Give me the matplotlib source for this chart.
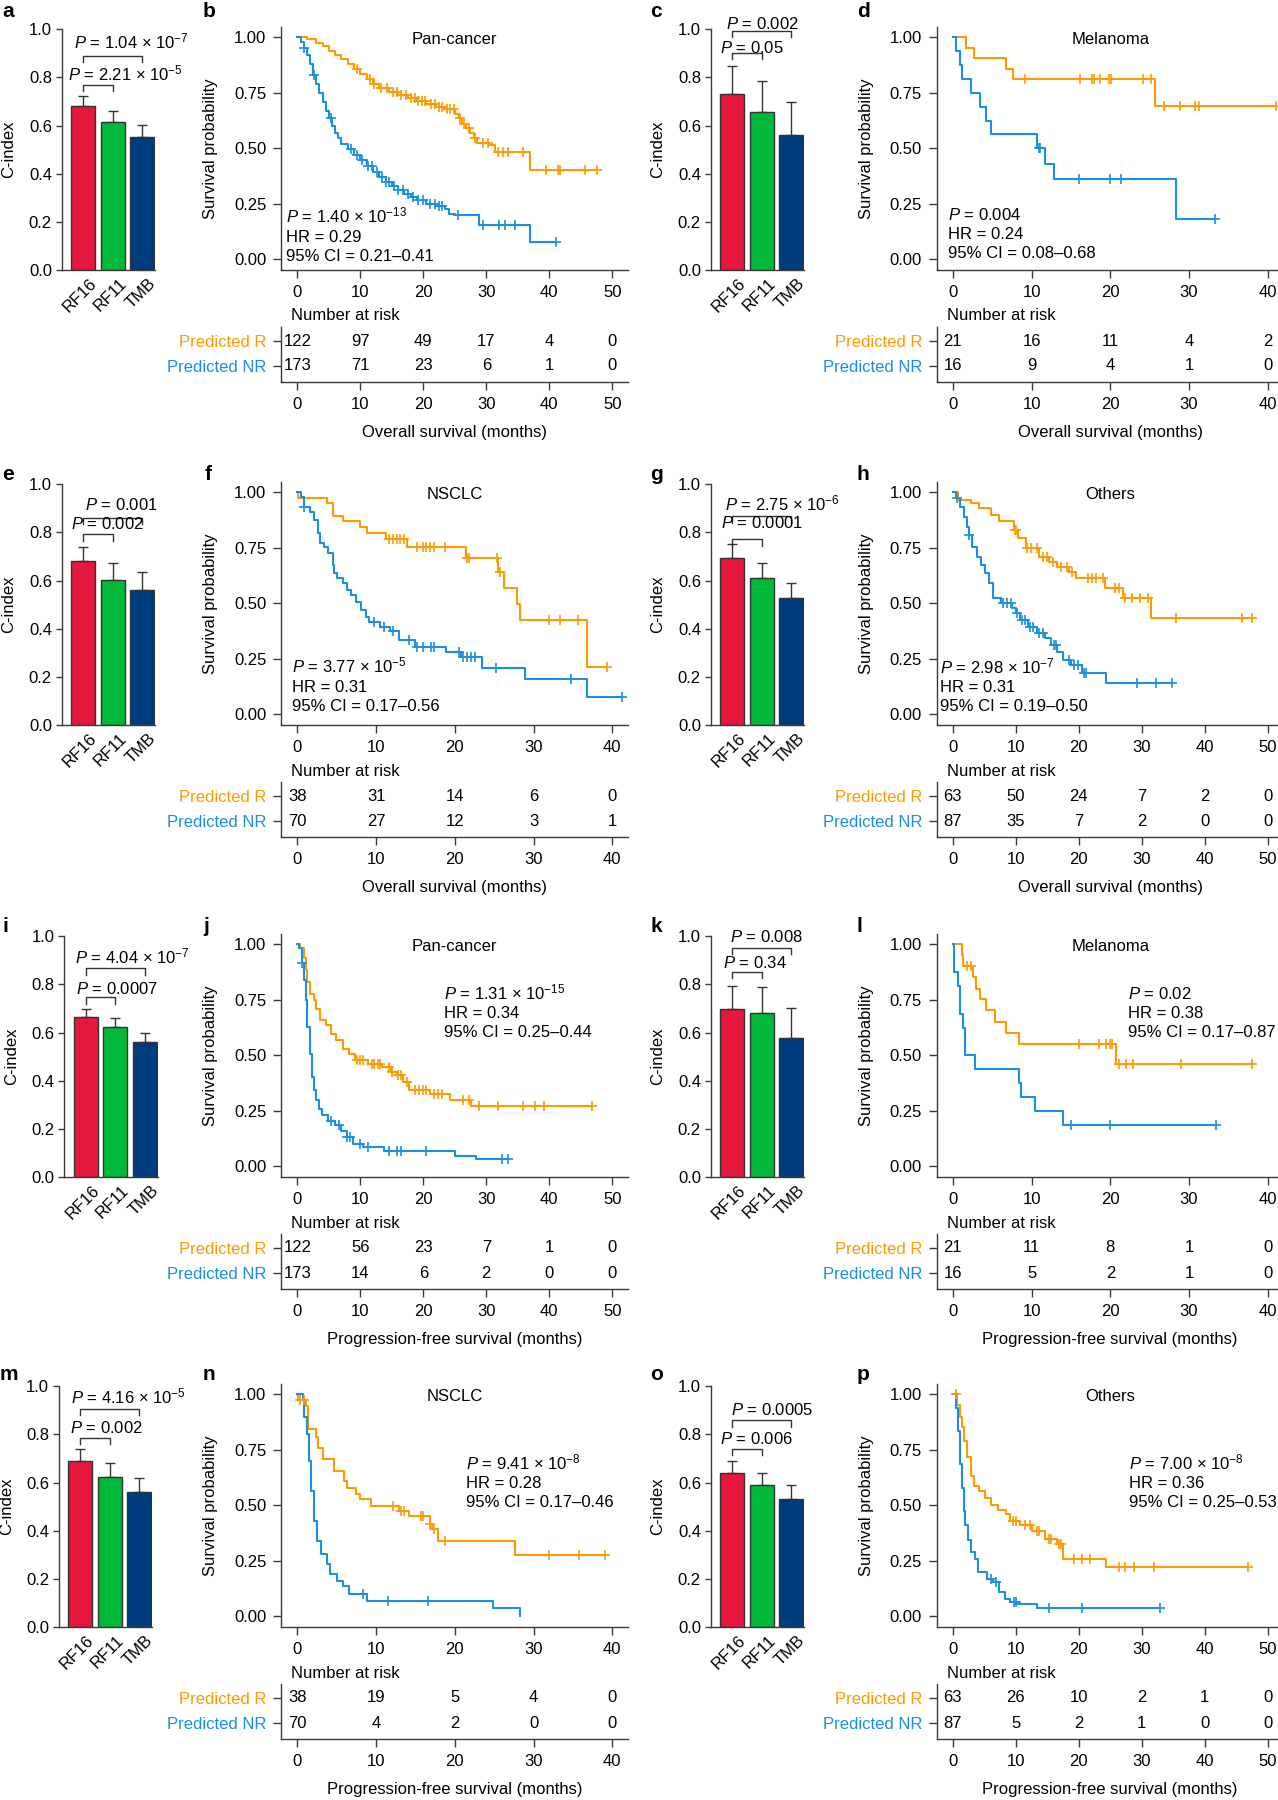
"""
C-index bar charts and Kaplan-Meier curves (predicted responders vs
non-responders) with number-at-risk tables, laid out as a 4 x 4 panel figure.
"""
import numpy as np
import matplotlib
matplotlib.use('Agg')
import matplotlib.pyplot as plt
import matplotlib.transforms as mtransforms

# ---------------------------------------------------------------------------
# C-index bar data (RF16, RF11, TMB) and upper error bars
# ---------------------------------------------------------------------------
models = ['RF16', 'RF11', 'TMB']

cindex_a = [0.681, 0.615, 0.554]
err_a = [0.042, 0.045, 0.047]
cindex_c = [0.730, 0.658, 0.561]
err_c = [0.119, 0.129, 0.139]
cindex_e = [0.682, 0.602, 0.560]
err_e = [0.059, 0.069, 0.076]
cindex_g = [0.693, 0.609, 0.528]
err_g = [0.058, 0.062, 0.064]
cindex_i = [0.664, 0.622, 0.560]
err_i = [0.036, 0.038, 0.040]
cindex_k = [0.700, 0.683, 0.577]
err_k = [0.095, 0.108, 0.124]
cindex_m = [0.689, 0.622, 0.560]
err_m = [0.050, 0.060, 0.061]
cindex_o = [0.638, 0.591, 0.533]
err_o = [0.051, 0.049, 0.059]

# P values: (RF16 vs TMB, RF16 vs RF11)
p_a = ['1.04 × 10$^{-7}$', '2.21 × 10$^{-5}$']
p_c = ['0.002', '0.05']
p_e = ['0.001', '0.002']
p_g = ['2.75 × 10$^{-6}$', '0.0001']
p_i = ['4.04 × 10$^{-7}$', '0.0007']
p_k = ['0.008', '0.34']
p_m = ['4.16 × 10$^{-5}$', '0.002']
p_o = ['0.0005', '0.006']

# ---------------------------------------------------------------------------
# Kaplan-Meier curves: step times, survival after each step, censor times
# ---------------------------------------------------------------------------
# b: pan-cancer, overall survival
b_r_t = [0, 1.5, 3, 4, 5, 6, 7, 8, 9, 10, 11, 12, 13, 14.5, 16, 17.5, 19, 20.5,
         22, 23.5, 25, 25.6, 26.2, 26.8, 27.4, 28, 28.5, 30.5, 31.4, 36.9]
b_r_s = [1.0, 0.99, 0.975, 0.96, 0.94, 0.92, 0.90, 0.88, 0.855, 0.835, 0.81,
         0.79, 0.77, 0.755, 0.74, 0.725, 0.715, 0.70, 0.685, 0.675, 0.655,
         0.635, 0.61, 0.59, 0.57, 0.545, 0.525, 0.515, 0.485, 0.40]
b_r_cens = [9.5, 11.5, 12.2, 13.2, 14.2, 15.2, 15.8, 16.5, 17.2, 18.0, 18.6,
            19.2, 19.8, 20.2, 21.2, 21.8, 22.5, 23.0, 23.8, 24.3, 24.8, 25.8,
            26.5, 27.2, 28.2, 29.5, 30.2, 31.9, 32.6, 33.5, 35.9, 39.5, 41.4,
            41.7, 45.6, 47.6]
b_nr_t = [0, 0.5, 1, 1.5, 2, 2.5, 3, 3.5, 4, 4.5, 5, 5.5, 6, 6.5, 7, 8, 9, 10,
          11, 12, 13, 14, 15, 16, 17, 18, 19, 20.5, 22, 23.5, 24, 25, 28.8, 36.9]
b_nr_s = [1.0, 0.98, 0.95, 0.92, 0.88, 0.83, 0.79, 0.75, 0.71, 0.67, 0.635,
          0.60, 0.57, 0.545, 0.52, 0.495, 0.47, 0.445, 0.42, 0.395, 0.37, 0.35,
          0.33, 0.31, 0.295, 0.28, 0.265, 0.25, 0.24, 0.225, 0.205, 0.20,
          0.155, 0.08]
b_nr_cens = [1.0, 2.6, 5.4, 8.5, 9.5, 10.3, 11.2, 11.8, 12.6, 13.4, 14.0, 14.6,
             15.4, 16.0, 16.8, 17.5, 18.3, 19.2, 20.0, 21.0, 21.8, 22.5, 23.0,
             25.5, 29.5, 32.0, 33.0, 34.5, 41.0]

# d: melanoma, overall survival
d_r_t = [0, 1.7, 2.7, 6.7, 7.7, 25.7]
d_r_s = [1.0, 0.952, 0.905, 0.857, 0.81, 0.69]
d_r_cens = [9.1, 16.1, 17.7, 17.9, 18.7, 19.8, 20.1, 24.2, 25.2, 26.8, 28.8,
            30.8, 31.3, 41.0, 41.8]
d_nr_t = [0, 0.4, 0.9, 1.1, 2.25, 3.5, 4.2, 4.8, 10.7, 11.7, 12.9, 28.3]
d_nr_s = [1.0, 0.9375, 0.875, 0.8125, 0.75, 0.6875, 0.625, 0.5625, 0.5, 0.43,
          0.36, 0.18]
d_nr_cens = [10.9, 11.1, 16.0, 20.0, 21.3, 33.3]

# f: NSCLC, overall survival
f_r_t = [0, 0.05, 3.7, 4.5, 5.8, 7.9, 8.9, 11.3, 13.9, 21.4, 25.5, 26.3, 27.9,
         28.3, 36.8]
f_r_s = [1.0, 0.973, 0.95, 0.895, 0.871, 0.842, 0.818, 0.79, 0.755, 0.703,
         0.643, 0.571, 0.497, 0.425, 0.215]
f_r_cens = [11.6, 12.1, 12.6, 13.1, 13.6, 15.2, 15.9, 16.3, 16.8, 17.3, 18.7,
            21.6, 21.8, 25.4, 25.7, 32.0, 33.4, 35.7, 39.3]
f_nr_t = [0, 0.5, 0.9, 1.6, 2.1, 2.6, 2.9, 3.4, 3.9, 4.5, 4.6, 5.0, 5.8, 6.3,
          6.8, 7.4, 8.1, 8.7, 9.1, 10.5, 11.8, 12.9, 15.0, 18.9, 20.8, 23.4,
          28.9, 36.8]
f_nr_s = [1.0, 0.98, 0.932, 0.913, 0.875, 0.815, 0.77, 0.755, 0.725, 0.673,
          0.635, 0.613, 0.59, 0.56, 0.537, 0.507, 0.47, 0.44, 0.417, 0.395,
          0.373, 0.335, 0.305, 0.282, 0.26, 0.21, 0.16, 0.08]
f_nr_cens = [0.9, 9.7, 11.0, 12.1, 14.2, 15.2, 16.0, 17.0, 17.3, 20.5, 21.1,
             21.6, 22.1, 22.6, 25.2, 34.8, 41.3]

# h: others, overall survival
h_r_t = [0, 0.85, 2.8, 4.1, 6.1, 7.4, 9.7, 10.3, 11.6, 13.6, 15.2, 16.6, 18.5,
         19.5, 24.1, 27.0, 31.5]
h_r_s = [1.0, 0.965, 0.95, 0.928, 0.898, 0.872, 0.83, 0.793, 0.748, 0.71,
         0.688, 0.665, 0.643, 0.613, 0.568, 0.522, 0.435]
h_r_cens = [9.9, 10.1, 11.8, 12.4, 13.3, 14.3, 15.0, 15.9, 17.2, 18.2, 18.9,
            21.5, 22.1, 22.8, 23.8, 25.7, 26.4, 27.4, 28.4, 29.7, 31.0, 35.4,
            45.9, 47.5]
h_nr_t = [0, 0.5, 1.2, 1.8, 2.2, 2.5, 3.1, 3.8, 4.5, 5.1, 5.8, 6.4, 7.7, 9.4,
          10.0, 10.7, 12.0, 13.3, 14.6, 15.6, 16.6, 17.5, 18.8, 20.5, 24.3]
h_nr_s = [1.0, 0.973, 0.935, 0.89, 0.845, 0.808, 0.755, 0.71, 0.673, 0.635,
          0.59, 0.523, 0.5, 0.477, 0.455, 0.425, 0.395, 0.365, 0.342, 0.312,
          0.282, 0.245, 0.222, 0.188, 0.143]
h_nr_cens = [0.7, 2.6, 8.0, 8.6, 9.2, 10.2, 11.0, 11.5, 12.2, 12.8, 13.6, 14.3,
             16.0, 16.3, 18.5, 19.2, 19.8, 20.8, 21.1, 29.3, 32.3, 34.8]

# j: pan-cancer, progression-free survival
j_r_t = [0, 0.4, 1.0, 1.3, 1.6, 2.0, 2.6, 3.0, 3.6, 4.6, 5.3, 6.2, 7.2, 8.2,
         9.2, 11.2, 13.5, 14.8, 15.8, 16.8, 17.7, 21.0, 24.3, 27.6]
j_r_s = [1.0, 0.985, 0.937, 0.884, 0.83, 0.777, 0.749, 0.71, 0.657, 0.636,
         0.598, 0.568, 0.53, 0.508, 0.48, 0.462, 0.447, 0.425, 0.41, 0.38,
         0.342, 0.327, 0.297, 0.27]
j_r_cens = [9.4, 10.0, 10.5, 11.8, 12.2, 12.8, 13.1, 14.5, 15.1, 15.9, 16.4,
            17.4, 18.7, 19.3, 19.9, 20.4, 21.7, 22.3, 23.0, 26.3, 27.3, 28.9,
            31.9, 35.8, 37.8, 39.1, 46.8]
j_nr_t = [0, 0.3, 0.7, 1.0, 1.3, 1.6, 2.0, 2.3, 2.6, 3.0, 3.4, 3.9, 4.9, 5.9,
          6.9, 7.9, 8.9, 10.5, 13.8, 25.0, 28.3]
j_nr_s = [1.0, 0.982, 0.914, 0.839, 0.748, 0.628, 0.508, 0.402, 0.342, 0.297,
          0.259, 0.229, 0.206, 0.184, 0.161, 0.131, 0.101, 0.086, 0.071, 0.048,
          0.033]
j_nr_cens = [0.7, 5.3, 6.6, 7.9, 8.4, 9.9, 11.2, 14.5, 15.8, 16.4, 20.4, 32.5,
             33.4]

# l: melanoma, progression-free survival
l_r_t = [0, 1.1, 1.3, 2.6, 3.0, 3.4, 4.2, 5.4, 6.7, 8.4, 20.7]
l_r_s = [1.0, 0.952, 0.904, 0.851, 0.8, 0.753, 0.703, 0.65, 0.6, 0.553, 0.462]
l_r_cens = [1.8, 2.3, 16.0, 18.6, 19.5, 19.9, 20.2, 21.1, 22.0, 22.9, 29.0,
            38.0]
l_nr_t = [0, 0.2, 0.6, 0.9, 1.3, 1.5, 2.8, 8.4, 8.6, 10.4, 14.0]
l_nr_s = [1.0, 0.875, 0.8125, 0.6875, 0.625, 0.5, 0.4375, 0.375, 0.3125, 0.25,
          0.1875]
l_nr_cens = [15.0, 20.0, 33.4]

# n: NSCLC, progression-free survival
n_r_t = [0, 0.05, 1.05, 1.3, 2.4, 2.6, 3.3, 4.7, 5.9, 6.3, 7.4, 7.9, 9.3, 12.9,
         14.2, 16.8, 17.1, 17.9, 27.6]
n_r_s = [1.0, 0.974, 0.947, 0.842, 0.806, 0.76, 0.71, 0.656, 0.611, 0.58, 0.55,
         0.528, 0.498, 0.476, 0.45, 0.416, 0.393, 0.34, 0.276]
n_r_cens = [0.3, 0.8, 12.1, 13.2, 13.5, 15.7, 15.9, 16.9, 17.4, 18.7, 32.0,
            35.8, 39.1]
n_nr_t = [0, 0.7, 0.9, 1.2, 1.5, 1.7, 2.1, 2.5, 3.0, 3.7, 4.2, 5.0, 5.8, 6.6,
          8.8, 24.9, 28.3]
n_nr_s = [1.0, 0.982, 0.896, 0.82, 0.7, 0.566, 0.43, 0.34, 0.28, 0.236, 0.19,
          0.16, 0.138, 0.1, 0.07, 0.036, 0.0]
n_nr_cens = [8.3, 11.5, 16.6]

# p: others, progression-free survival
p_r_t = [0, 0.7, 1.2, 1.5, 1.8, 2.2, 2.8, 3.3, 4.1, 5.1, 6.1, 7.1, 8.4, 9.0,
         10.7, 12.6, 14.6, 16.6, 17.5, 24.3]
p_r_s = [1.0, 0.95, 0.896, 0.851, 0.791, 0.716, 0.633, 0.588, 0.566, 0.535,
         0.5, 0.479, 0.46, 0.43, 0.41, 0.385, 0.35, 0.327, 0.26, 0.22]
p_r_cens = [0.5, 9.5, 10.0, 11.5, 12.3, 13.3, 13.6, 15.2, 15.6, 16.9, 17.2,
            19.2, 20.5, 21.8, 26.4, 27.4, 28.7, 31.9, 46.9]
p_nr_t = [0, 0.5, 0.85, 1.2, 1.5, 1.7, 2.0, 2.4, 2.8, 3.5, 4.0, 5.4, 6.4, 7.3,
          8.2, 9.0, 10.1, 13.4]
p_nr_s = [1.0, 0.94, 0.835, 0.686, 0.58, 0.475, 0.41, 0.342, 0.29, 0.26, 0.2,
          0.17, 0.155, 0.11, 0.08, 0.065, 0.054, 0.038]
p_nr_cens = [6.1, 6.9, 9.7, 10.0, 15.2, 20.5, 32.9]

# Number at risk (every 10 months)
b_risk_r = [122, 97, 49, 17, 4, 0]
b_risk_nr = [173, 71, 23, 6, 1, 0]
d_risk_r = [21, 16, 11, 4, 2]
d_risk_nr = [16, 9, 4, 1, 0]
f_risk_r = [38, 31, 14, 6, 0]
f_risk_nr = [70, 27, 12, 3, 1]
h_risk_r = [63, 50, 24, 7, 2, 0]
h_risk_nr = [87, 35, 7, 2, 0, 0]
j_risk_r = [122, 56, 23, 7, 1, 0]
j_risk_nr = [173, 14, 6, 2, 0, 0]
l_risk_r = [21, 11, 8, 1, 0]
l_risk_nr = [16, 5, 2, 1, 0]
n_risk_r = [38, 19, 5, 4, 0]
n_risk_nr = [70, 4, 2, 0, 0]
p_risk_r = [63, 26, 10, 2, 1, 0]
p_risk_nr = [87, 5, 2, 1, 0, 0]

# Log-rank P, hazard ratio, 95% CI
b_stats = ['1.40 × 10$^{-13}$', '0.29', '0.21–0.41']
d_stats = ['0.004', '0.24', '0.08–0.68']
f_stats = ['3.77 × 10$^{-5}$', '0.31', '0.17–0.56']
h_stats = ['2.98 × 10$^{-7}$', '0.31', '0.19–0.50']
j_stats = ['1.31 × 10$^{-15}$', '0.34', '0.25–0.44']
l_stats = ['0.02', '0.38', '0.17–0.87']
n_stats = ['9.41 × 10$^{-8}$', '0.28', '0.17–0.46']
p_stats = ['7.00 × 10$^{-8}$', '0.36', '0.25–0.53']

# ---------------------------------------------------------------------------
# Style
# ---------------------------------------------------------------------------
plt.rcParams['font.family'] = ['Liberation Sans', 'DejaVu Sans']
plt.rcParams['mathtext.fontset'] = 'custom'
plt.rcParams['mathtext.rm'] = 'Liberation Sans'
plt.rcParams['mathtext.it'] = 'Liberation Sans:italic'
plt.rcParams['mathtext.bf'] = 'Liberation Sans:bold'
plt.rcParams['font.size'] = 12
plt.rcParams['axes.linewidth'] = 1.0

AXIS_COLOR = '#3a3a3a'
ORANGE = '#FF9A00'
BLUE = '#1A8FE3'
BAR_COLORS = ['#E5173C', '#00B93A', '#003C7E']

W, H = 1278, 1800
ROW_OFF = [0, 455, 907, 1357]          # vertical offset of each panel row (px)
BAR_CENTER0 = [[83, 732], [83, 732], [85.8, 732], [80.2, 732]]
BAR_UNIT = 29.6                        # px between bar centres
BAR_XLIM = (-0.72, 2.43)
KM_LEFT = [281, 936.5]
KM_W, KM_H = 347, 243

fig = plt.figure(figsize=(W / 100, H / 100), dpi=100)


def add_px_axes(left, top, width, height):
    """Add an axes given in pixel units measured from the top-left corner."""
    return fig.add_axes([left / W, 1 - (top + height) / H, width / W, height / H])


def style_spines(ax):
    for side in ('top', 'right'):
        ax.spines[side].set_visible(False)
    for side in ('left', 'bottom'):
        ax.spines[side].set_color(AXIS_COLOR)
    ax.tick_params(colors=AXIS_COLOR, labelcolor='black', width=1)


def draw_cindex(row, col, vals, errs, pvals, lay):
    """Bar chart of C-index with significance brackets."""
    c0 = BAR_CENTER0[row][col]
    width = (BAR_XLIM[1] - BAR_XLIM[0]) * BAR_UNIT
    left = c0 + BAR_XLIM[0] * BAR_UNIT
    ax = add_px_axes(left, 29.3 + ROW_OFF[row], width, 240.7)
    x = np.arange(len(models))
    ax.bar(x, vals, width=0.81, color=BAR_COLORS, edgecolor='#333333',
           linewidth=1, zorder=2)
    ax.errorbar(x, vals, yerr=[np.zeros(len(vals)), errs], fmt='none',
                ecolor='#333333', elinewidth=1, capsize=3.5, capthick=1, zorder=1)
    ax.set_xlim(*BAR_XLIM)
    ax.set_ylim(0, 1)
    style_spines(ax)
    ax.set_yticks(np.arange(0, 1.01, 0.2))
    ax.set_yticklabels(['%.1f' % v for v in np.arange(0, 1.01, 0.2)])
    ax.tick_params(axis='y', direction='out', length=4, pad=3, labelsize=12)
    ax.set_xticks(x)
    ax.set_xticklabels(models, rotation=45, ha='right', va='top',
                       rotation_mode='anchor', fontsize=12)
    ax.tick_params(axis='x', length=0, pad=4)
    shift = mtransforms.ScaledTranslation(6 / 100, 0, fig.dpi_scale_trans)
    for lbl in ax.get_xticklabels():
        lbl.set_transform(lbl.get_transform() + shift)
    ax.text((-74 - BAR_XLIM[0] * BAR_UNIT) / width, 0.5, 'C-index',
            transform=ax.transAxes, rotation=90, ha='center', va='center',
            fontsize=12)

    # brackets: RF16 vs TMB (long), RF16 vs RF11 (short)
    yl, ys, tl, ts, xl, xs = lay
    tick = 0.027
    for (x1, yb, ty, tx, p) in ((2, yl, tl, xl, pvals[0]), (1, ys, ts, xs, pvals[1])):
        ax.plot([0, 0, x1, x1], [yb - tick, yb, yb, yb - tick], color='#333333',
                lw=1, clip_on=False)
        ax.text(tx, ty, '$P$ = ' + p, ha='left', va='baseline', fontsize=12,
                clip_on=False)
    return ax


def step_at(times, surv, t):
    times = np.asarray(times, float)
    surv = np.asarray(surv, float)
    return surv[np.searchsorted(times, np.asarray(t, float), side='right') - 1]


def draw_km(row, col, spec):
    """Kaplan-Meier panel plus number-at-risk table underneath."""
    R = spec['xmax']
    left = KM_LEFT[col]
    off = ROW_OFF[row]
    xlim = (-0.052 * R, 1.05 * R)
    ticks = np.arange(0, R + 1, 10)

    ax = add_px_axes(left, 27 + off, KM_W, KM_H)
    for (t, s, c), color in ((spec['r'], ORANGE), (spec['nr'], BLUE)):
        end = max(t[-1], max(c))
        ax.step(list(t) + [end], list(s) + [s[-1]], where='post', color=color,
                lw=1.5, zorder=3)
        ax.plot(c, step_at(t, s, c), ls='none', marker='+', ms=7, mew=1.2,
                color=color, zorder=4)
    ax.set_xlim(*xlim)
    ax.set_ylim(-0.048, 1.046)
    style_spines(ax)
    ax.set_xticks(ticks)
    ax.set_yticks([0, 0.25, 0.5, 0.75, 1.0])
    ax.set_yticklabels(['0.00', '0.25', '0.50', '0.75', '1.00'])
    ax.tick_params(direction='out', length=5.5, pad=5, labelsize=12)
    ax.text(-70 / KM_W, 0.5, 'Survival probability', transform=ax.transAxes,
            rotation=90, ha='center', va='center', fontsize=12)
    ax.text(R / 2, 0.99, spec['title'], ha='center', va='center', fontsize=12)

    sx, sy = spec['stat_pos']
    p, hr, ci = spec['stats']
    lines = ['$P$ = ' + p, 'HR = ' + hr, '95% CI = ' + ci]
    for k, txt in enumerate(lines):
        ax.text(sx * R, sy - 0.027 - k * 0.0855, txt, ha='left',
                va='baseline', fontsize=12)

    # number-at-risk table
    tab = add_px_axes(left, 327 + off, KM_W, 55)
    tab.set_xlim(*xlim)
    tab.set_ylim(-0.64, 1.56)
    style_spines(tab)
    for xi, nr, nn in zip(ticks, spec['risk_r'], spec['risk_nr']):
        tab.text(xi, 1, str(nr), ha='center', va='center', fontsize=12)
        tab.text(xi, 0, str(nn), ha='center', va='center', fontsize=12)
    tab.set_yticks([1, 0])
    tab.set_yticklabels(['Predicted R', 'Predicted NR'])
    for lbl, color in zip(tab.get_yticklabels(), [ORANGE, BLUE]):
        lbl.set_color(color)
    tab.set_xticks(ticks)
    tab.tick_params(direction='out', length=5.5, pad=5, labelsize=12)
    blend = mtransforms.blended_transform_factory(tab.transData, tab.transAxes)
    tab.text(-0.02 * R, 1.2, 'Number at risk', transform=blend, ha='left',
             va='center', fontsize=12)
    tab.text(0.5, -0.91, spec['xlabel'], transform=tab.transAxes,
             ha='center', va='center', fontsize=12)


# ---------------------------------------------------------------------------
# Panels
# ---------------------------------------------------------------------------
# bracket layout: long y, short y, long text baseline, short text baseline,
# long text x, short text x (bar-index units)
bar_panels = [
    (0, 0, cindex_a, err_a, p_a, (0.891, 0.769, 0.921, 0.789, -0.32, -0.50)),
    (0, 1, cindex_c, err_c, p_c, (0.993, 0.903, 1.000, 0.903, -0.20, -0.41)),
    (1, 0, cindex_e, err_e, p_e, (0.860, 0.793, 0.895, 0.813, 0.08, -0.40)),
    (1, 1, cindex_g, err_g, p_g, (0.868, 0.772, 0.893, 0.820, -0.25, -0.38)),
    (2, 0, cindex_i, err_i, p_i, (0.867, 0.747, 0.888, 0.761, -0.38, -0.34)),
    (2, 1, cindex_k, err_k, p_k, (0.952, 0.852, 0.975, 0.869, -0.08, -0.32)),
    (3, 0, cindex_m, err_m, p_m, (0.907, 0.786, 0.928, 0.806, -0.31, -0.36)),
    (3, 1, cindex_o, err_o, p_o, (0.859, 0.740, 0.880, 0.761, -0.04, -0.41)),
]
for row, col, vals, errs, pv, lay in bar_panels:
    draw_cindex(row, col, vals, errs, pv, lay)

OS = 'Overall survival (months)'
PFS = 'Progression-free survival (months)'
km_panels = [
    (0, 0, dict(title='Pan-cancer', xmax=50, xlabel=OS,
                r=(b_r_t, b_r_s, b_r_cens), nr=(b_nr_t, b_nr_s, b_nr_cens),
                risk_r=b_risk_r, risk_nr=b_risk_nr, stats=b_stats,
                stat_pos=(-0.036, 0.192))),
    (0, 1, dict(title='Melanoma', xmax=40, xlabel=OS,
                r=(d_r_t, d_r_s, d_r_cens), nr=(d_nr_t, d_nr_s, d_nr_cens),
                risk_r=d_risk_r, risk_nr=d_risk_nr, stats=d_stats,
                stat_pos=(-0.016, 0.204))),
    (1, 0, dict(title='NSCLC', xmax=40, xlabel=OS,
                r=(f_r_t, f_r_s, f_r_cens), nr=(f_nr_t, f_nr_s, f_nr_cens),
                risk_r=f_risk_r, risk_nr=f_risk_nr, stats=f_stats,
                stat_pos=(-0.016, 0.215))),
    (1, 1, dict(title='Others', xmax=50, xlabel=OS,
                r=(h_r_t, h_r_s, h_r_cens), nr=(h_nr_t, h_nr_s, h_nr_cens),
                risk_r=h_risk_r, risk_nr=h_risk_nr, stats=h_stats,
                stat_pos=(-0.042, 0.212))),
    (2, 0, dict(title='Pan-cancer', xmax=50, xlabel=PFS,
                r=(j_r_t, j_r_s, j_r_cens), nr=(j_nr_t, j_nr_s, j_nr_cens),
                risk_r=j_risk_r, risk_nr=j_risk_nr, stats=j_stats,
                stat_pos=(0.466, 0.779))),
    (2, 1, dict(title='Melanoma', xmax=40, xlabel=PFS,
                r=(l_r_t, l_r_s, l_r_cens), nr=(l_nr_t, l_nr_s, l_nr_cens),
                risk_r=l_risk_r, risk_nr=l_risk_nr, stats=l_stats,
                stat_pos=(0.555, 0.779))),
    (3, 0, dict(title='NSCLC', xmax=40, xlabel=PFS,
                r=(n_r_t, n_r_s, n_r_cens), nr=(n_nr_t, n_nr_s, n_nr_cens),
                risk_r=n_risk_r, risk_nr=n_risk_nr, stats=n_stats,
                stat_pos=(0.535, 0.69))),
    (3, 1, dict(title='Others', xmax=50, xlabel=PFS,
                r=(p_r_t, p_r_s, p_r_cens), nr=(p_nr_t, p_nr_s, p_nr_cens),
                risk_r=p_risk_r, risk_nr=p_risk_nr, stats=p_stats,
                stat_pos=(0.56, 0.689))),
]
for row, col, spec in km_panels:
    draw_km(row, col, spec)

# panel letters (x px, baseline px)
letters = [('a', 2, 17), ('b', 203, 17), ('c', 650, 17), ('d', 857, 17),
           ('e', 2, 480), ('f', 205, 480), ('g', 650, 480), ('h', 857, 480),
           ('i', 2, 932), ('j', 203, 932), ('k', 650, 932), ('l', 857, 932),
           ('m', 0, 1380), ('n', 203, 1380), ('o', 650, 1380), ('p', 857, 1380)]
for letter, lx, ly in letters:
    fig.text(lx / W, 1 - ly / H, letter, fontsize=15, fontweight='bold',
             ha='left', va='baseline')

fig.savefig('out.png', dpi=100)
